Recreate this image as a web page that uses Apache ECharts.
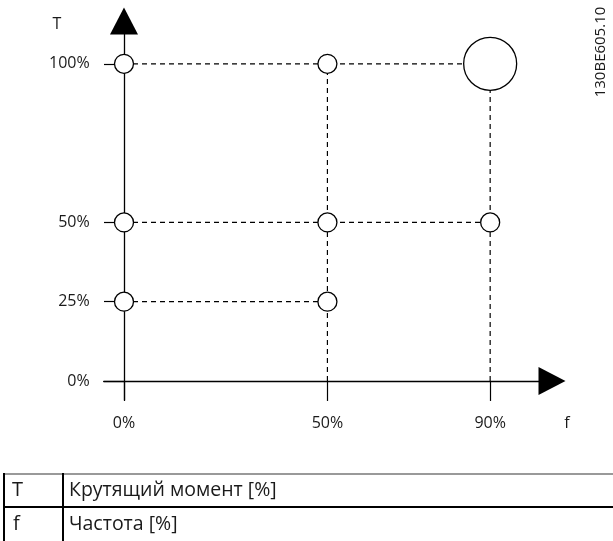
<!DOCTYPE html>
<html><head><meta charset="utf-8">
<script src="https://cdn.jsdelivr.net/npm/echarts@6/dist/echarts.min.js"></script>
<style>html,body{margin:0;padding:0;background:#fff}#c{width:613px;height:541px}</style>
</head><body><div id="c"></div>
<script>
// Data
const fTicks = [0, 50, 90];            // frequency tick values [%]
const tTicks = [0, 25, 50, 100];       // torque tick values [%]
const pointF = [0, 50, 0, 50, 90, 0, 50];
const pointT = [100, 100, 50, 50, 50, 25, 25];
const ratedPoint = [90, 100];          // large circle
const yName = 'T';
const xName = 'f';
const docId = '130BE605.10';
const legendKeys = ['T', 'f'];
const legendTexts = ['Крутящий момент [%]', 'Частота [%]'];

const FONT = '"Open Sans", "Noto Sans", sans-serif';
const TXT = '#1a1a1a';

const allF = pointF.concat([ratedPoint[0]]);
const allT = pointT.concat([ratedPoint[1]]);

// Dashed guide segments derived from the points
const segs = [];
const tLevels = [...new Set(allT)].filter(v => v > 0);
tLevels.forEach(t => {
  const maxF = Math.max(...allF.filter((f, i) => allT[i] === t));
  if (maxF > 0) segs.push([[0, t], [maxF, t]]);
});
const fLevels = [...new Set(allF)].filter(v => v > 0);
fLevels.forEach(f => {
  const maxT = Math.max(...allT.filter((t, i) => allF[i] === f));
  if (maxT > 0) segs.push([[f, 0], [f, maxT]]);
});

const series = segs.map(s => ({
  type: 'line', data: s, symbol: 'none', silent: true, z: 2,
  lineStyle: { color: '#000', width: 1.2, type: [5, 4] }
}));
series.push({
  type: 'scatter', z: 5, silent: true,
  data: pointF.map((f, i) => [f, pointT[i]]),
  symbol: 'circle', symbolSize: 19,
  itemStyle: { color: '#fff', borderColor: '#000', borderWidth: 1.3, opacity: 1 }
});
series.push({
  type: 'scatter', z: 5, silent: true,
  data: [ratedPoint],
  symbol: 'circle', symbolSize: 53,
  itemStyle: { color: '#fff', borderColor: '#000', borderWidth: 1.3, opacity: 1 }
});

const axisCommon = {
  type: 'value',
  splitLine: { show: false },
  axisLine: { show: true, onZero: true, lineStyle: { color: '#000', width: 1.3 },
              symbol: ['none', 'triangle'], symbolSize: [28, 27] },
};

const option = {
  animation: false,
  grid: { left: 103.65, right: 61, top: 21, bottom: 141 },
  xAxis: Object.assign({}, axisCommon, {
    min: -5, max: 105.2,
    axisTick: { show: true, length: 20, customValues: fTicks, lineStyle: { color: '#000', width: 1.2 } },
    axisLabel: { customValues: fTicks, formatter: '{value}%', margin: 15,
                 fontSize: 16, fontFamily: FONT, color: TXT }
  }),
  yAxis: Object.assign({}, axisCommon, {
    min: -6, max: 113.5,
    axisTick: { show: true, length: 20, customValues: tTicks, lineStyle: { color: '#000', width: 1.2 } },
    axisLabel: { customValues: tTicks, formatter: '{value}%', margin: 14,
                 fontSize: 16, fontFamily: FONT, color: TXT }
  }),
  series: series,
  graphic: [
    { type: 'text', x: 57, y: 24, style: { text: yName, fontSize: 16, fontFamily: FONT, fill: TXT, align: 'center', verticalAlign: 'middle' } },
    { type: 'text', x: 567, y: 423, style: { text: xName, fontSize: 16, fontFamily: FONT, fill: TXT, align: 'center', verticalAlign: 'middle' } },
    { type: 'text', x: 601, y: 52, rotation: Math.PI / 2, style: { text: docId, fontSize: 15, fontFamily: FONT, fill: TXT, align: 'center', verticalAlign: 'middle' } },
    { type: 'line', shape: { x1: 4, y1: 474, x2: 613, y2: 474 }, style: { stroke: '#777', lineWidth: 1.5 } },
    { type: 'line', shape: { x1: 4, y1: 507, x2: 613, y2: 507 }, style: { stroke: '#000', lineWidth: 2 } },
    { type: 'line', shape: { x1: 4, y1: 473, x2: 4, y2: 541 }, style: { stroke: '#000', lineWidth: 2 } },
    { type: 'line', shape: { x1: 63, y1: 473, x2: 63, y2: 541 }, style: { stroke: '#000', lineWidth: 2 } },
    { type: 'text', x: 12, y: 490, style: { text: legendKeys[0], fontSize: 20, fontFamily: FONT, fill: TXT, verticalAlign: 'middle' } },
    { type: 'text', x: 69, y: 490, style: { text: legendTexts[0], fontSize: 19.5, fontFamily: FONT, fill: TXT, verticalAlign: 'middle' } },
    { type: 'text', x: 13, y: 524, style: { text: legendKeys[1], fontSize: 20, fontFamily: FONT, fill: TXT, verticalAlign: 'middle' } },
    { type: 'text', x: 69, y: 524, style: { text: legendTexts[1], fontSize: 19.5, fontFamily: FONT, fill: TXT, verticalAlign: 'middle' } }
  ]
};

const chart = echarts.init(document.getElementById('c'), null, { renderer: 'canvas' });
chart.setOption(option);
</script>
</body></html>
